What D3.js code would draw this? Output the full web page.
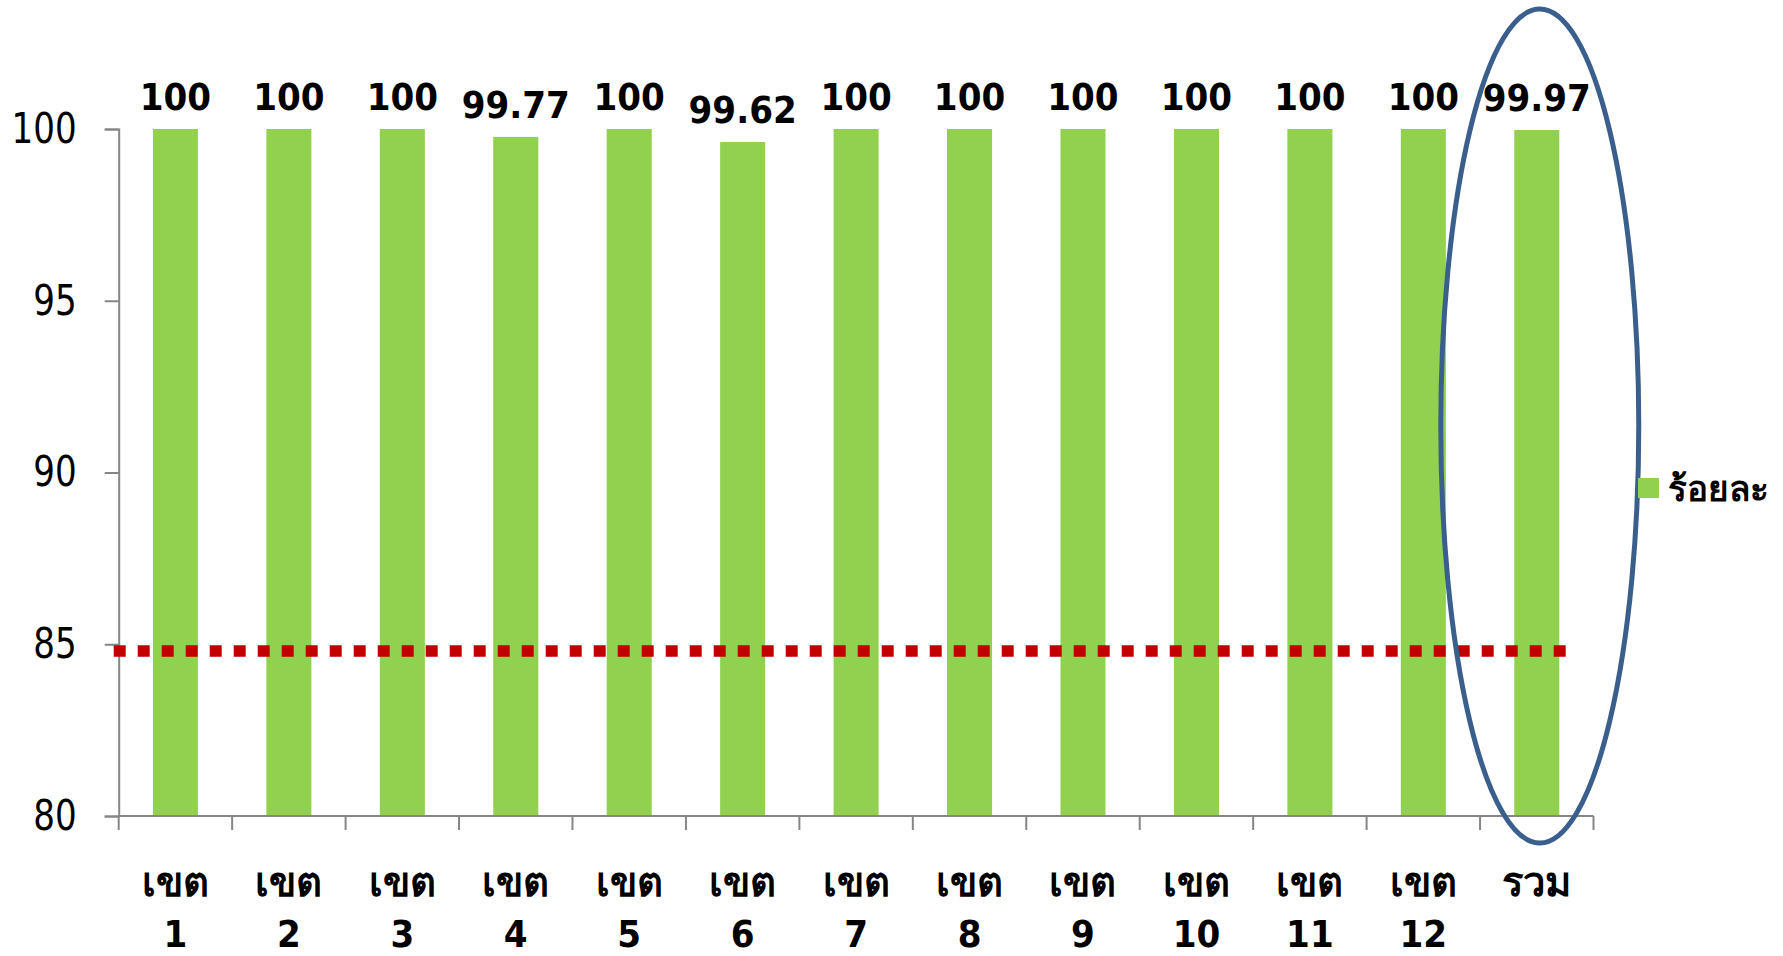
<!DOCTYPE html>
<html>
<head>
<meta charset="utf-8">
<script src="https://cdn.jsdelivr.net/npm/d3@7"></script>
<style>
  body { margin: 0; background: #fff; }
  svg text { font-family: Tahoma, "DejaVu Sans Condensed", "DejaVu Sans", sans-serif; }
</style>
</head>
<body>
<div id="chart"></div>
<script>
// data
var categories = ["เขต 1", "เขต 2", "เขต 3", "เขต 4", "เขต 5", "เขต 6", "เขต 7",
                  "เขต 8", "เขต 9", "เขต 10", "เขต 11", "เขต 12", "รวม"];
var values = [100, 100, 100, 99.77, 100, 99.62, 100, 100, 100, 100, 100, 100, 99.97];
var valueLabels = ["100", "100", "100", "99.77", "100", "99.62", "100", "100", "100", "100", "100", "100", "99.97"];
var yTicks = [80, 85, 90, 95, 100];
var target = 84.8;
var seriesName = "ร้อยละ";
var highlighted = "รวม";

var w = 1783, h = 956;
var plotLeft = 118.7, plotRight = 1593.5, plotTop = 129, plotBottom = 816;

var svg = d3.select("#chart").append("svg")
    .attr("width", w)
    .attr("height", h);

var cell = d3.scaleBand().domain(categories).range([plotLeft, plotRight]).padding(0);
var x = d3.scaleBand().domain(categories).range([plotLeft, plotRight])
    .paddingInner(0.603).paddingOuter(0.3015);
var y = d3.scaleLinear().domain([80, 100]).range([plotBottom, plotTop]);

// bars
svg.append("g").selectAll("rect")
    .data(values)
    .enter()
    .append("rect")
    .attr("x", function(d, i) { return x(categories[i]); })
    .attr("y", function(d) { return y(d); })
    .attr("width", x.bandwidth())
    .attr("height", function(d) { return y(80) - y(d); })
    .attr("fill", "#92D050");

// value labels
svg.append("g").selectAll("text")
    .data(values)
    .enter()
    .append("text")
    .attr("x", function(d, i) { return x(categories[i]) + x.bandwidth() / 2; })
    .attr("y", function(d) { return y(d) - 19; })
    .attr("text-anchor", "middle")
    .attr("font-size", 38)
    .attr("font-weight", "bold")
    .text(function(d, i) { return valueLabels[i]; });

// y axis
var yAxis = svg.append("g")
    .attr("transform", "translate(" + plotLeft + ",0)")
    .call(d3.axisLeft(y).tickValues(yTicks).tickSize(14).tickPadding(28));
yAxis.select(".domain").attr("stroke", "#868686").attr("stroke-width", 2);
yAxis.selectAll(".tick line").attr("stroke", "#868686").attr("stroke-width", 2);
yAxis.selectAll(".tick text")
    .attr("font-size", 42)
    .attr("fill", "#000")
    .attr("textLength", function(d) { return String(d).length * 21.7; })
    .attr("lengthAdjust", "spacingAndGlyphs")
    .style("font-family", "Tahoma, 'DejaVu Sans Condensed', sans-serif");

// x axis line + ticks at the cell boundaries
var gx = svg.append("g");
gx.append("line")
    .attr("x1", plotLeft).attr("x2", plotRight)
    .attr("y1", plotBottom).attr("y2", plotBottom)
    .attr("stroke", "#868686").attr("stroke-width", 2);
gx.selectAll("line.tk")
    .data(categories.concat([null]))
    .enter()
    .append("line")
    .attr("class", "tk")
    .attr("x1", function(d) { return d ? cell(d) : plotRight; })
    .attr("x2", function(d) { return d ? cell(d) : plotRight; })
    .attr("y1", plotBottom).attr("y2", plotBottom + 14)
    .attr("stroke", "#868686").attr("stroke-width", 2);

// category labels (two lines)
var cats = gx.selectAll("text.cat")
    .data(categories)
    .enter()
    .append("text")
    .attr("class", "cat")
    .attr("text-anchor", "middle")
    .attr("font-weight", "bold");
cats.selectAll("tspan")
    .data(function(d) { return d.split(" ").map(function(s) { return { s: s, c: d }; }); })
    .enter()
    .append("tspan")
    .attr("x", function(d) { return cell(d.c) + cell.bandwidth() / 2; })
    .attr("y", function(d, i) { return 896 + i * 51; })
    .attr("font-size", function(d, i) { return i === 0 ? 40 : 38; })
    .text(function(d) { return d.s; });

// target line
svg.append("line")
    .attr("x1", plotLeft - 5)
    .attr("x2", cell(categories[categories.length - 1]) + cell.bandwidth() * 0.77)
    .attr("y1", y(target)).attr("y2", y(target))
    .attr("stroke", "#C00000")
    .attr("stroke-width", 11.5)
    .attr("stroke-dasharray", "12 12");

// highlight ellipse
svg.append("ellipse")
    .attr("cx", x(highlighted) + x.bandwidth() / 2 + 3)
    .attr("cy", 426)
    .attr("rx", 99)
    .attr("ry", 417)
    .attr("fill", "none")
    .attr("stroke", "#3A5F8C")
    .attr("stroke-width", 5);

// legend
var lg = svg.append("g").attr("transform", "translate(1638,478)");
lg.append("rect").attr("width", 21).attr("height", 20).attr("fill", "#92D050");
lg.append("text")
    .attr("x", 30).attr("y", 23)
    .attr("font-size", 35)
    .attr("font-weight", "bold")
    .text(seriesName);
</script>
</body>
</html>
